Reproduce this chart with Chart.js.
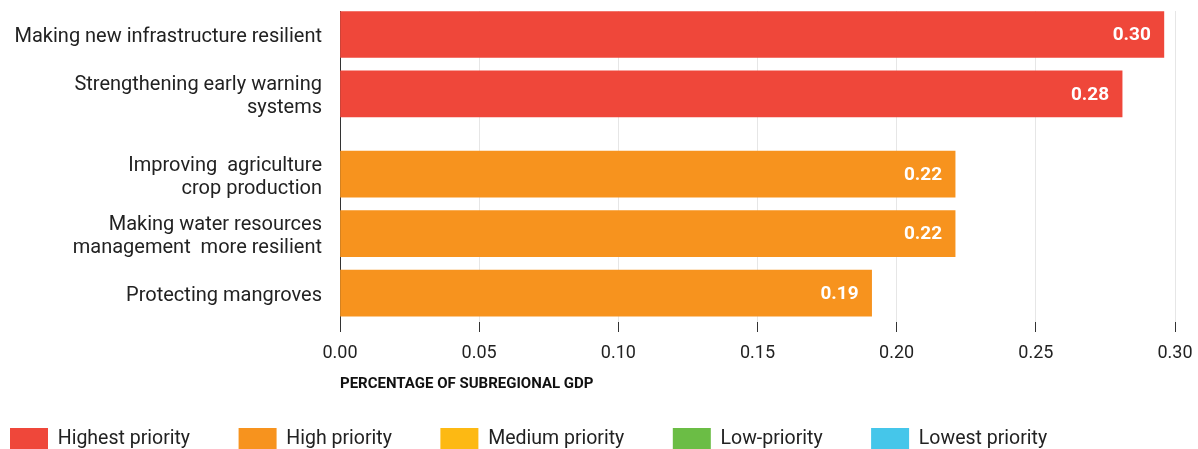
<!DOCTYPE html>
<html lang="en">
<head>
  <meta charset="UTF-8">
  <title>Adaptation measures by priority</title>
  <script src="https://cdn.jsdelivr.net/npm/chart.js"></script>
  <style>
    html, body { margin: 0; padding: 0; background: #fff; }
    #wrap { width: 1198px; height: 449px; }
  </style>
</head>
<body>
  <div id="wrap"><canvas id="chart"></canvas></div>

  <script>
    // data
    const measures = [
      ['Making new infrastructure resilient'],
      ['Strengthening early warning', 'systems'],
      ['Improving  agriculture', 'crop production'],
      ['Making water resources', 'management  more resilient'],
      ['Protecting mangroves']
    ];
    const gdpShare = [0.296, 0.281, 0.221, 0.221, 0.191];
    const measurePriority = [0, 0, 1, 1, 1];
    const priorityNames = ['Highest priority', 'High priority', 'Medium priority', 'Low-priority', 'Lowest priority'];
    const priorityColors = ['#EF473A', '#F7931E', '#FDB913', '#6BBD45', '#45C6EA'];
    const xTicks = [0, 0.05, 0.10, 0.15, 0.20, 0.25, 0.30];

    const TEXT = '#222';
    const GROUP_GAP = 0.35; // extra space between priority groups
    const slot = i => i + measurePriority[i] * GROUP_GAP;
    const Y_MIN = -0.395;
    const Y_MAX = slot(measures.length - 1) + 0.487;

    Chart.defaults.font.family = 'Roboto';

    const datasets = priorityNames.map((name, p) => ({
      label: name,
      backgroundColor: priorityColors[p],
      data: gdpShare
        .map((v, i) => ({ x: v, y: slot(i), p: measurePriority[i] }))
        .filter(d => d.p === p),
      barThickness: 46,
      grouped: false
    }));

    // white value labels at the end of each bar
    const barValueLabels = {
      id: 'barValueLabels',
      afterDatasetsDraw(chart) {
        const ctx = chart.ctx;
        ctx.save();
        ctx.fillStyle = '#fff';
        ctx.font = 'bold 19px Roboto';
        ctx.textAlign = 'right';
        ctx.textBaseline = 'middle';
        chart.data.datasets.forEach((ds, di) => {
          chart.getDatasetMeta(di).data.forEach((bar, j) => {
            ctx.fillText(ds.data[j].x.toFixed(2), bar.x - 13, bar.y + 1);
          });
        });
        ctx.restore();
      }
    };

    // legend sits flush left along the bottom edge
    const legendPlacement = {
      id: 'legendPlacement',
      beforeInit(chart) {
        const fit = chart.legend.fit;
        chart.legend.fit = function () { fit.call(this); this.height = 56; };
      },
      afterLayout(chart) {
        const pad = chart.legend.options.labels.padding;
        chart.legend.left = 10 - pad;
        chart.legend.top = 428 - pad;
      }
    };

    new Chart(document.getElementById('chart').getContext('2d'), {
      type: 'bar',
      data: { datasets },
      options: {
        indexAxis: 'y',
        responsive: true,
        maintainAspectRatio: false,
        animation: false,
        layout: { padding: { top: 11, right: 23, left: 0, bottom: 0 } },
        scales: {
          y: {
            type: 'linear',
            reverse: true,
            offset: false,
            bounds: 'data',
            min: Y_MIN,
            max: Y_MAX,
            afterBuildTicks: s => {
              s.ticks = measures.map((m, i) => ({ value: slot(i) }));
              s.min = Y_MIN;
              s.max = Y_MAX;
            },
            afterFit: s => { s.width = 340; s.paddingTop = 0; s.paddingBottom = 0; },
            grid: { display: false, drawTicks: false },
            border: { display: false },
            ticks: {
              autoSkip: false,
              padding: 18,
              labelOffset: 3,
              color: TEXT,
              font: { size: 20, lineHeight: 1.15 },
              callback: (v, i) => measures[i]
            }
          },
          x: {
            min: 0,
            max: 0.3,
            afterBuildTicks: s => { s.ticks = xTicks.map(v => ({ value: v })); },
            afterFit: s => { s.height = 71; s.paddingLeft = 0; s.paddingRight = 0; },
            grid: {
              color: c => (c.tick && c.tick.value === 0 ? '#333' : '#e6e6e6'),
              tickColor: '#333',
              tickLength: 10
            },
            border: { display: false },
            ticks: {
              padding: 11,
              color: TEXT,
              font: { size: 18 },
              callback: v => v.toFixed(2)
            },
            title: {
              display: true,
              text: 'PERCENTAGE OF SUBREGIONAL GDP',
              align: 'start',
              color: '#111',
              font: { size: 15, weight: 'bold' },
              padding: { top: 0, bottom: 0 }
            }
          }
        },
        plugins: {
          legend: {
            position: 'bottom',
            align: 'start',
            labels: {
              boxWidth: 38,
              boxHeight: 22,
              padding: 48.5,
              color: TEXT,
              font: { size: 19.5 }
            }
          },
          tooltip: { enabled: false }
        }
      },
      plugins: [barValueLabels, legendPlacement]
    });
  </script>
</body>
</html>
